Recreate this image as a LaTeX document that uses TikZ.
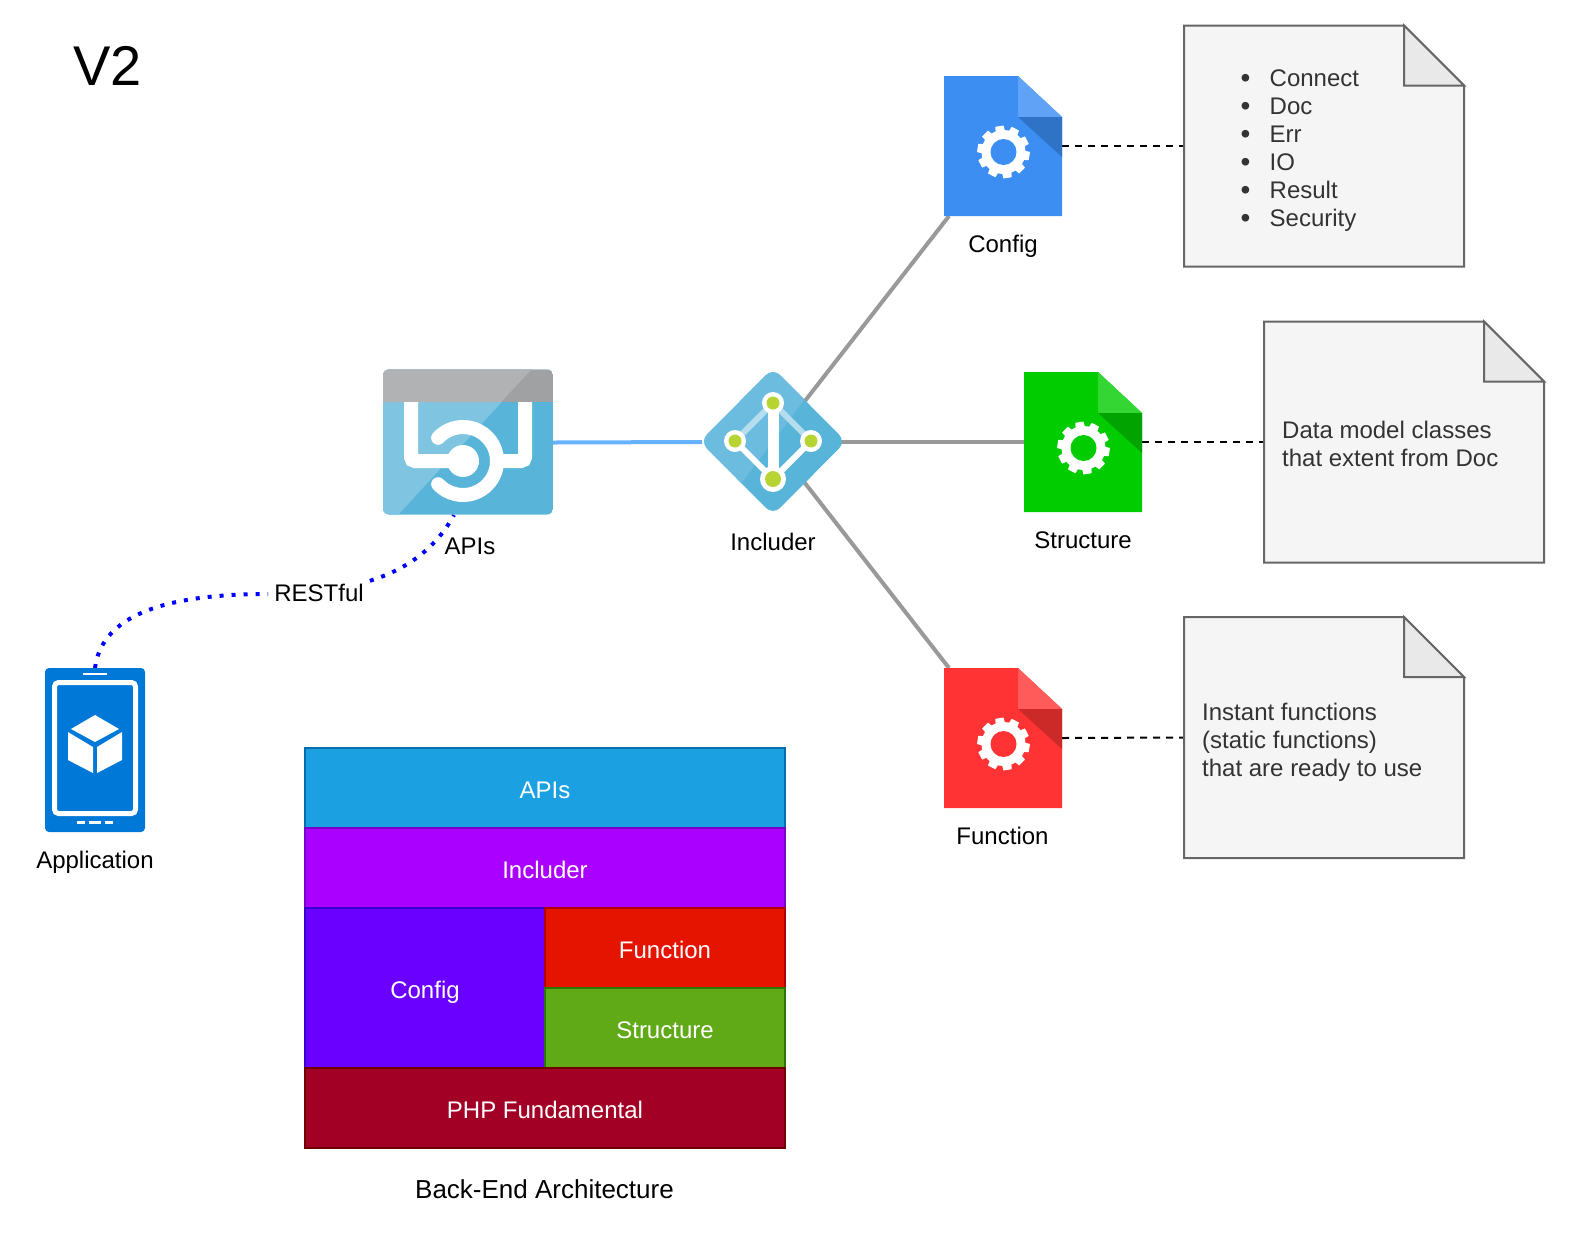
\documentclass[tikz,border=0pt]{standalone}
\usepackage{xcolor}
\usepackage{fontspec}
\setmainfont{Liberation Sans}
\usepackage{tikz}
\usetikzlibrary{calc}

\definecolor{azure}{HTML}{59B4D9}
\definecolor{azurelight}{HTML}{7FC4E0}
\definecolor{azuremid}{HTML}{6BBCDF}
\definecolor{bandgray}{HTML}{A0A1A2}
\definecolor{bandlight}{HTML}{B1B2B4}
\definecolor{limedot}{HTML}{B8D432}
\definecolor{phoneblue}{HTML}{0078D7}
\definecolor{notefill}{HTML}{F5F5F5}
\definecolor{notefoldfill}{HTML}{E9E9E9}
\definecolor{noteline}{HTML}{666666}
\definecolor{notetext}{HTML}{333333}
\definecolor{linkgray}{HTML}{999999}
\definecolor{linkblue}{HTML}{66B2FF}
\definecolor{cfgblue}{HTML}{3D8EF3}
\definecolor{cfgbluel}{HTML}{60A2F5}
\definecolor{cfgblued}{HTML}{2F73C6}
\definecolor{strgreen}{HTML}{00CC00}
\definecolor{strgreenl}{HTML}{33D633}
\definecolor{strgreend}{HTML}{00A300}
\definecolor{fnred}{HTML}{FF3333}
\definecolor{fnredl}{HTML}{FF5B5B}
\definecolor{fnredd}{HTML}{CC2929}
\definecolor{apisfill}{HTML}{1BA1E2}
\definecolor{apisline}{HTML}{006EAF}
\definecolor{incfill}{HTML}{AA00FF}
\definecolor{incline}{HTML}{7700CC}
\definecolor{cfgfill}{HTML}{6A00FF}
\definecolor{cfgline}{HTML}{3700CC}
\definecolor{funfill}{HTML}{E51400}
\definecolor{funline}{HTML}{B20000}
\definecolor{strfill}{HTML}{60A917}
\definecolor{strline}{HTML}{2D7600}
\definecolor{phpfill}{HTML}{A20025}
\definecolor{phpline}{HTML}{6F0000}

% file icon on top of an empty node
\newcommand{\fileicon}[4]{%
  \begin{scope}[shift={(#1.center)}]
    \fill[#2] (-59,-70) -- (15,-70) -- (59,-29) -- (59,70) -- (-59,70) -- cycle;
    \fill[#3] (15,-70) -- (15,-29) -- (59,-29) -- cycle;
    \fill[#4] (15,-29) -- (59,-29) -- (59,11) -- cycle;
    \foreach \a in {0,36,...,324} {
      \fill[white, shift={(0.5,6)}, rotate=\a-81] (-13:21) -- (-9:26.5) -- (9:26.5) -- (13:21) -- cycle;
    }
    \fill[white] (0.5,6) circle (22);
    \fill[#2] (0.5,6) circle (13);
  \end{scope}}

% note outline on top of an empty node
\newcommand{\notesheet}[1]{%
  \draw[sheet] (#1.north west) -- ($(#1.north east)+(-60,0)$) -- ($(#1.north east)+(0,60)$)
    -- (#1.south east) -- (#1.south west) -- cycle;
  \draw[sheet, fill=notefoldfill] ($(#1.north east)+(-60,0)$) -- ($(#1.north east)+(-60,60)$)
    -- ($(#1.north east)+(0,60)$) -- cycle;}

\newcommand{\noteitem}[1]{\makebox[29pt][l]{\raisebox{-1pt}{\fontsize{28}{28}\selectfont\textbullet}}#1}

\begin{document}
\begin{tikzpicture}[
  x=1pt, y=-1pt,
  iconbox/.style={inner sep=0pt, outer sep=0pt, minimum width=#1},
  lbl/.style={font=\fontsize{24}{28}\selectfont, inner sep=0pt, text height=22pt, text depth=6pt},
  notebox/.style={inner sep=0pt, outer sep=0pt, minimum width=280pt, minimum height=241pt},
  sheet/.style={draw=noteline, fill=notefill, line width=2pt, line join=miter},
  notetxt/.style={font=\fontsize{24}{28}\selectfont, text=notetext, align=left, inner sep=0pt, anchor=west},
  layer/.style={draw=#1line, fill=#1fill, line width=2pt, inner sep=0pt, outer sep=0pt, text=white,
    font=\fontsize{24}{28}\selectfont, text height=26pt, text depth=6pt},
  wire/.style={draw=linkgray, line width=4pt},
  dashwire/.style={draw=black, line width=2pt, dash pattern=on 7pt off 6pt},
  restwire/.style={draw=blue, line width=4pt, dash pattern=on 4pt off 8pt}
]
  \useasboundingbox (0,0) rectangle (1570,1254);

  \node[font=\fontsize{56}{60}\selectfont, inner sep=0pt] (title) at (107.5,66) {V2};

  % --- empty nodes for the icons ---
  \node[iconbox=170pt, minimum height=145pt] (apis) at (468,442.5) {};
  \node[iconbox=142pt, minimum height=142pt] (inc) at (773,442) {};
  \node[iconbox=118pt, minimum height=140pt] (cfg) at (1003,146) {};
  \node[iconbox=118pt, minimum height=140pt] (str) at (1083,442) {};
  \node[iconbox=118pt, minimum height=140pt] (fun) at (1003,738) {};
  \node[iconbox=100pt, minimum height=164pt] (app) at (95,750) {};
  \node[notebox] (notecfg) at (1324,146) {};
  \node[notebox] (notestr) at (1404,442) {};
  \node[notebox] (notefun) at (1324,737.5) {};

  % --- connectors ---
  \draw[wire, draw=linkblue] (apis.east) -- (inc.west);
  \draw[wire] (inc.center) -- ($(cfg.south west)+(5,0)$);
  \draw[wire] (inc.center) -- (str.west);
  \draw[wire] (inc.center) -- ($(fun.north west)+(5,0)$);
  \draw[dashwire] (cfg.east) -- (notecfg.west);
  \draw[dashwire] (str.east) -- (notestr.west);
  \draw[dashwire] (fun.east) -- (notefun.west);

  \node[lbl, text height=20pt, inner xsep=6pt] (rest) at (319,594) {RESTful};
  \draw[restwire] (app.north) .. controls (101,622) and (150,594) .. (rest.west);
  \draw[restwire] (rest.north east) .. controls (398,572) and (432,555) .. ($(apis.south)+(-14,0)$);

  % --- APIs icon ---
  \begin{scope}
    \clip[rounded corners=6pt] (383,369.5) rectangle (553,514.5);
    \fill[azure] (383,369) rectangle (553,515);
    \fill[azurelight] (383,515) -- (398,515) -- (532,369) -- (383,369) -- cycle;
    \fill[bandgray] (383,369) rectangle (553,402);
    \fill[bandlight] (383,369) -- (532,369) -- (501,402) -- (383,402) -- cycle;
  \end{scope}
  \draw[white, line width=14pt, rounded corners=4pt] (411,402) -- (411,461) -- (455,461);
  \draw[white, line width=14pt, rounded corners=4pt] (525,402) -- (525,461) -- (497,461);
  \draw[white, line width=14pt, line cap=round] (463,461) ++(-137:34) arc[start angle=-137, end angle=137, radius=34];
  \fill[white] (463,461) circle (16);

  % --- Includer icon ---
  \begin{scope}
    \clip[rounded corners=10pt] (773,368) -- (846,441.5) -- (773,515) -- (700,441.5) -- cycle;
    \fill[azure] (690,360) rectangle (856,520);
    \fill[azuremid] (823,375) -- (725,505) -- (690,505) -- (690,360) -- (823,360) -- cycle;
  \end{scope}
  \draw[white!55!azure, line width=6pt] (773,403) -- (735,441) (773,403) -- (811,441);
  \draw[white, line width=6pt] (735,441) -- (773,479) -- (811,441);
  \draw[white, line width=11pt] (773,403) -- (773,479);
  \foreach \px/\py/\ro/\ri in {773/403/11/6.5, 735/441/11/6.5, 811/441/11/6.5, 773/479/13/8} {
    \fill[white] (\px,\py) circle (\ro);
    \fill[limedot] (\px,\py) circle (\ri);
  }

  % --- file icons ---
  \fileicon{cfg}{cfgblue}{cfgbluel}{cfgblued}
  \fileicon{str}{strgreen}{strgreenl}{strgreend}
  \fileicon{fun}{fnred}{fnredl}{fnredd}

  % --- Application icon ---
  \fill[phoneblue, rounded corners=4pt] (45,668) rectangle (145,832);
  \draw[white, line width=5pt, rounded corners=4pt] (54.5,682.5) rectangle (135.5,813.5);
  \draw[white, line width=2pt] (83,674) -- (107,674);
  \foreach \bx/\by in {77/85, 89/101, 105/113} {
    \draw[white, line width=3pt] (\bx,822) -- (\by,822);
  }
  \fill[white] (95,715) -- (119,729) -- (95,742) -- (71,729) -- cycle;
  \fill[white] (68,732) -- (93,747) -- (93,773) -- (68,760) -- cycle;
  \fill[white] (97,747) -- (122,732) -- (122,760) -- (97,773) -- cycle;

  % --- notes ---
  \notesheet{notecfg}
  \notesheet{notestr}
  \notesheet{notefun}
  \node[notetxt] (txtcfg) at (1240.5,151)
    {\noteitem{Connect}\\\noteitem{Doc}\\\noteitem{Err}\\\noteitem{IO}\\\noteitem{Result}\\\noteitem{Security}};
  \node[notetxt] (txtstr) at (1282,444) {Data model classes\\that extent from Doc};
  \node[notetxt] (txtfun) at (1202,742) {Instant functions\\(static functions)\\that are ready to use};

  % --- labels ---
  \node[lbl] (lblapis) at (470,546) {APIs};
  \node[lbl] (lblinc) at (773,542) {Includer};
  \node[lbl] (lblcfg) at (1003,244) {Config};
  \node[lbl] (lblstr) at (1083,540) {Structure};
  \node[lbl] (lblfun) at (1002.5,836) {Function};
  \node[lbl] (lblapp) at (95,860) {Application};

  % --- stack ---
  \node[layer=apis, minimum width=480pt, minimum height=80pt] (stapis) at (545,788) {APIs};
  \node[layer=inc, minimum width=480pt, minimum height=80pt] (stinc) at (545,868) {Includer};
  \node[layer=cfg, minimum width=240pt, minimum height=160pt] (stcfg) at (425,988) {Config};
  \node[layer=fun, minimum width=240pt, minimum height=80pt] (stfun) at (665,948) {Function};
  \node[layer=str, minimum width=240pt, minimum height=80pt] (ststr) at (665,1028) {Structure};
  \node[layer=php, minimum width=480pt, minimum height=80pt] (stphp) at (545,1108) {PHP Fundamental};
  \node[lbl, font=\fontsize{26}{30}\selectfont] (lblstack) at (544.5,1190) {Back-End Architecture};
\end{tikzpicture}
\end{document}
